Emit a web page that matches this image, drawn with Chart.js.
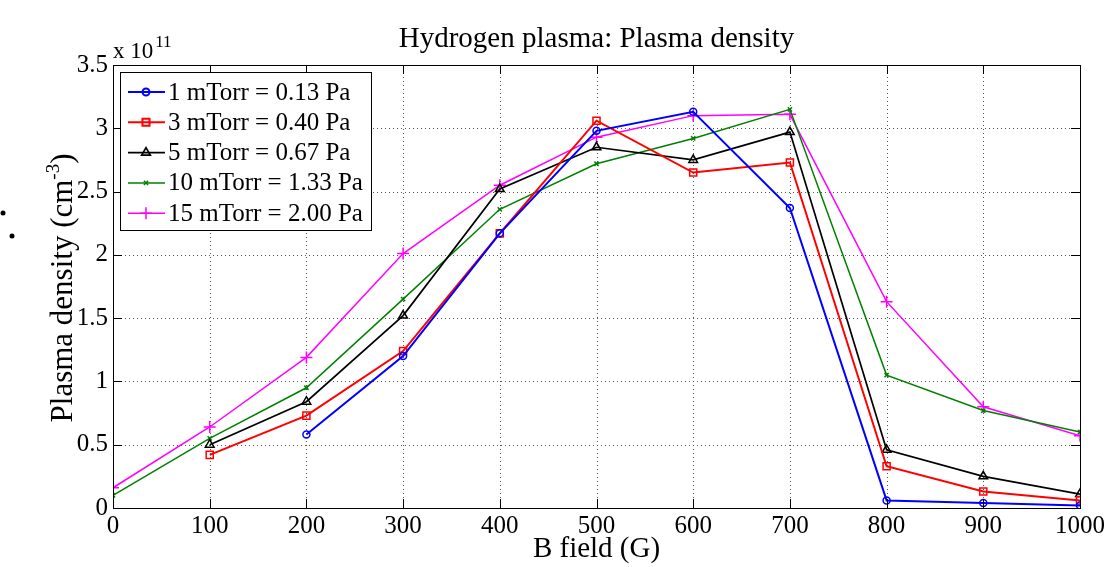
<!DOCTYPE html>
<html lang="en">
<head>
  <meta charset="UTF-8">
  <script src="https://cdn.jsdelivr.net/npm/chart.js"></script>
  <title>Hydrogen plasma</title>
  <style>
    html, body { margin: 0; padding: 0; background: #fff; }
    #box { width: 1118px; height: 567px; }
  </style>
</head>
<body>
  <div id="box"><canvas id="grafico"></canvas></div>
<script>
  // B field (G) and plasma density (x 1e11 cm^-3)
  const campoB = [0, 100, 200, 300, 400, 500, 600, 700, 800, 900, 1000];
  const p1mTorr = [null, null, 0.58, 1.20, 2.17, 2.98, 3.13, 2.37, 0.06, 0.04, 0.02];
  const p3mTorr = [null, 0.42, 0.73, 1.24, 2.17, 3.06, 2.65, 2.73, 0.33, 0.13, 0.06];
  const p5mTorr = [null, 0.50, 0.84, 1.52, 2.52, 2.85, 2.75, 2.97, 0.46, 0.25, 0.11];
  const p10mTorr = [0.10, 0.55, 0.95, 1.65, 2.36, 2.72, 2.92, 3.15, 1.05, 0.77, 0.60];
  const p15mTorr = [0.16, 0.64, 1.19, 2.01, 2.55, 2.93, 3.10, 3.11, 1.63, 0.80, 0.57];
  const legendas = ['1 mTorr = 0.13 Pa', '3 mTorr = 0.40 Pa', '5 mTorr = 0.67 Pa', '10 mTorr = 1.33 Pa', '15 mTorr = 2.00 Pa'];
  const ticksY = [0, 0.5, 1, 1.5, 2, 2.5, 3, 3.5];

  const fonte = '"Liberation Serif", "Times New Roman", serif';

  function pontos(valores) {
    return campoB.map((b, i) => ({ x: b, y: valores[i] })).filter(p => p.y !== null);
  }

  function serie(label, valores, cor, estilo, raio, largura) {
    return {
      label: label,
      data: pontos(valores),
      borderColor: cor,
      backgroundColor: 'rgba(0,0,0,0)',
      pointBorderColor: cor,
      pointBackgroundColor: 'rgba(0,0,0,0)',
      pointStyle: estilo,
      pointRadius: raio,
      pointBorderWidth: 1.5,
      borderWidth: largura,
      tension: 0
    };
  }

  // dotted grid (MATLAB "grid on")
  const grade = {
    id: 'grade',
    beforeDatasetsDraw(chart) {
      const c = chart.ctx;
      const a = chart.chartArea;
      const sx = chart.scales.x, sy = chart.scales.y;
      c.save();
      c.strokeStyle = '#555';
      c.lineWidth = 1;
      c.setLineDash([1, 3]);
      c.beginPath();
      campoB.forEach(b => {
        const x = Math.round(sx.getPixelForValue(b)) + 0.5;
        c.moveTo(x, a.top); c.lineTo(x, a.bottom);
      });
      ticksY.forEach(v => {
        const y = Math.round(sy.getPixelForValue(v)) + 0.5;
        c.moveTo(a.left, y); c.lineTo(a.right, y);
      });
      c.stroke();
      c.restore();
    }
  };

  // box, inner ticks, exponent, y title and legend
  const extras = {
    id: 'extras',
    afterDraw(chart) {
      const c = chart.ctx;
      const a = chart.chartArea;
      const sx = chart.scales.x, sy = chart.scales.y;
      c.save();
      c.strokeStyle = '#000';
      c.lineWidth = 1;
      c.strokeRect(a.left + 0.5, a.top + 0.5, a.right - a.left, a.bottom - a.top);
      c.beginPath();
      campoB.forEach(b => {
        const x = Math.round(sx.getPixelForValue(b)) + 0.5;
        c.moveTo(x, a.bottom); c.lineTo(x, a.bottom - 9);
        c.moveTo(x, a.top); c.lineTo(x, a.top + 9);
      });
      ticksY.forEach(v => {
        const y = Math.round(sy.getPixelForValue(v)) + 0.5;
        c.moveTo(a.left, y); c.lineTo(a.left + 9, y);
        c.moveTo(a.right, y); c.lineTo(a.right - 9, y);
      });
      c.stroke();

      // title
      c.fillStyle = '#000';
      c.textAlign = 'center';
      c.textBaseline = 'alphabetic';
      c.font = '29px ' + fonte;
      c.fillText('Hydrogen plasma: Plasma density', (a.left + a.right) / 2, 47);

      // exponent
      c.textAlign = 'left';
      c.font = '23px ' + fonte;
      c.fillText('x 10', a.left, 58);
      const w10 = c.measureText('x 10').width;
      c.font = '17px ' + fonte;
      c.fillText('11', a.left + w10 + 2, 47);

      // y title with superscript
      c.translate(72, 288);
      c.rotate(-Math.PI / 2);
      const p1 = 'Plasma density (cm', p3 = ')';
      c.font = '31px ' + fonte;
      const w1 = c.measureText(p1).width;
      c.font = '19px ' + fonte;
      const w2 = c.measureText('-3').width;
      c.font = '31px ' + fonte;
      const w3 = c.measureText(p3).width;
      const x0 = -(w1 + w2 + w3) / 2;
      c.fillText(p1, x0, 0);
      c.font = '19px ' + fonte;
      c.fillText('-3', x0 + w1, -13);
      c.font = '31px ' + fonte;
      c.fillText(p3, x0 + w1 + w2, 0);
      c.setTransform(1, 0, 0, 1, 0, 0);

      // stray dots on the left edge
      c.beginPath();
      c.arc(3, 213, 2.5, 0, Math.PI * 2);
      c.fill();
      c.beginPath();
      c.arc(12, 236, 2.5, 0, Math.PI * 2);
      c.fill();

      // legend
      const lx = a.left + 7, ly = a.top + 7, lw = 251, lh = 158;
      c.fillStyle = '#fff';
      c.fillRect(lx, ly, lw, lh);
      c.strokeStyle = '#000';
      c.lineWidth = 1;
      c.strokeRect(lx + 0.5, ly + 0.5, lw, lh);
      chart.data.datasets.forEach((ds, i) => {
        const y = ly + 20 + i * 30.3;
        c.strokeStyle = ds.borderColor;
        c.lineWidth = ds.borderWidth;
        c.beginPath();
        c.moveTo(lx + 8, y); c.lineTo(lx + 45, y);
        c.stroke();
        c.fillStyle = 'rgba(0,0,0,0)';
        Chart.helpers.drawPoint(c, {
          pointStyle: ds.pointStyle, radius: ds.pointRadius, borderWidth: 1.5, rotation: 0
        }, lx + 26, y);
        c.fillStyle = '#000';
        c.font = '25px ' + fonte;
        c.textAlign = 'left';
        c.textBaseline = 'middle';
        c.fillText(ds.label, lx + 48, y + 1);
      });
      c.restore();
    }
  };

  new Chart(document.getElementById('grafico'), {
    type: 'line',
    data: {
      datasets: [
        serie(legendas[0], p1mTorr, '#0000ff', 'circle', 3.5, 2),
        serie(legendas[1], p3mTorr, '#ff0000', 'rect', 5, 2),
        serie(legendas[2], p5mTorr, '#000000', 'triangle', 5, 1.7),
        serie(legendas[3], p10mTorr, '#008000', 'crossRot', 3, 1.5),
        serie(legendas[4], p15mTorr, '#ff00ff', 'cross', 6, 1.5)
      ]
    },
    options: {
      responsive: true,
      maintainAspectRatio: false,
      animation: false,
      layout: { padding: { left: 0, right: 38, top: 65, bottom: 0 } },
      plugins: {
        legend: { display: false },
        title: { display: false },
        tooltip: { enabled: false }
      },
      scales: {
        x: {
          type: 'linear',
          min: 0, max: 1000,
          afterBuildTicks: s => { s.ticks = campoB.map(v => ({ value: v })); },
          ticks: { color: '#000', font: { family: fonte, size: 25 }, padding: 3, maxRotation: 0, callback: v => String(v) },
          grid: { display: false, drawTicks: false },
          border: { display: false },
          title: { display: true, text: 'B field (G)', color: '#000', font: { family: fonte, size: 29 }, padding: { top: 0, bottom: 0 } },
          afterFit: s => { s.height = 59; }
        },
        y: {
          min: 0, max: 3.5,
          afterBuildTicks: s => { s.ticks = ticksY.map(v => ({ value: v })); },
          ticks: { color: '#000', font: { family: fonte, size: 25 }, padding: 5, callback: v => String(v) },
          grid: { display: false, drawTicks: false },
          border: { display: false },
          afterFit: s => { s.width = 113; }
        }
      }
    },
    plugins: [grade, extras]
  });
</script>
</body>
</html>
